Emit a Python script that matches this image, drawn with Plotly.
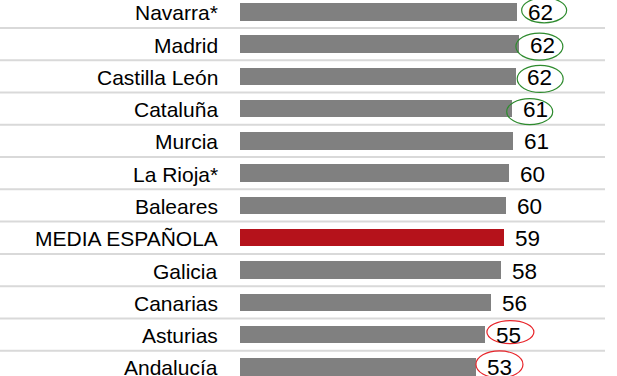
import plotly.graph_objects as go

# ---- data ----
regions = ["Navarra*", "Madrid", "Castilla León", "Cataluña", "Murcia", "La Rioja*",
           "Baleares", "MEDIA ESPAÑOLA", "Galicia", "Canarias", "Asturias", "Andalucía"]
values = [62.0, 62.5, 61.9, 60.9, 61.1, 60.2, 59.7, 59.2, 58.5, 56.2, 54.9, 52.9]
value_labels = ["62", "62", "62", "61", "61", "60", "60", "59", "58", "56", "55", "53"]

# ---- style ----
GRAY = "#808080"
RED_BAR = "#b5121b"
GREEN_RING = "#2e8b2e"
RED_RING = "#e8252b"
FONT = "Liberation Sans, Arial, sans-serif"
bar_colors = [RED_BAR if r == "MEDIA ESPAÑOLA" else GRAY for r in regions]

# highlight rings: colour and pixel offsets (dx0, dx1 from bar end; top, bottom from row centre, screen px)
rings = {
    "Navarra*": (GREEN_RING, (5, 50, -14, 11)),
    "Madrid": (GREEN_RING, (-3, 44, -11, 16)),
    "Castilla León": (GREEN_RING, (1, 47, -11, 16)),
    "Cataluña": (GREEN_RING, (-5, 41, -10, 16)),
    "Asturias": (RED_RING, (2, 49, -14, 9)),
    "Andalucía": (RED_RING, (0, 47, -16, 11)),
}

W, H = 617, 376
plot_w = 605
zero_px = 239.5
px_per_unit = 4.47
row_pitch = 32.28
first_row_px = 11.8

fig = go.Figure(go.Bar(
    x=values, y=regions, orientation="h",
    marker=dict(color=bar_colors, line=dict(width=0)),
    width=0.54, hoverinfo="skip",
))

shapes = []
# separators between rows
for i in range(len(regions) - 1):
    shapes.append(dict(type="line", xref="paper", x0=0, x1=1, yref="y",
                       y0=i + 0.5, y1=i + 0.5, line=dict(color="#d9d9d9", width=2),
                       layer="below"))
for i, r in enumerate(regions):
    if r in rings:
        col, (dx0, dx1, dt, db) = rings[r]
        shapes.append(dict(type="circle", xref="x", yref="y",
                           xsizemode="pixel", ysizemode="pixel",
                           xanchor=values[i], yanchor=i,
                           x0=dx0, x1=dx1, y0=-dt, y1=-db,
                           line=dict(color=col, width=1.2), fillcolor="rgba(0,0,0,0)"))

annotations = []
for i, r in enumerate(regions):
    annotations.append(dict(x=0, y=r, xref="x", yref="y", text=r, showarrow=False,
                            xanchor="right", yanchor="middle", xshift=-20, yshift=-1,
                            font=dict(family=FONT, size=21, color="#000000")))
    annotations.append(dict(x=values[i], y=r, xref="x", yref="y", text=value_labels[i],
                            showarrow=False, xanchor="left", yanchor="middle",
                            xshift=9, yshift=-1,
                            font=dict(family=FONT, size=22.5, color="#000000")))

x_lo = -zero_px / px_per_unit
x_hi = (plot_w - zero_px) / px_per_unit
y_top = -first_row_px / row_pitch
y_bot = y_top + H / row_pitch

fig.update_layout(
    width=W, height=H,
    margin=dict(l=0, r=W - plot_w, t=0, b=0, pad=0),
    paper_bgcolor="white", plot_bgcolor="white",
    showlegend=False,
    xaxis=dict(range=[x_lo, x_hi], visible=False, fixedrange=True),
    yaxis=dict(range=[y_bot, y_top], visible=False, fixedrange=True,
               categoryorder="array", categoryarray=regions),
    shapes=shapes, annotations=annotations,
    bargap=0,
)

fig.write_html("out.html", config={"displayModeBar": False})
